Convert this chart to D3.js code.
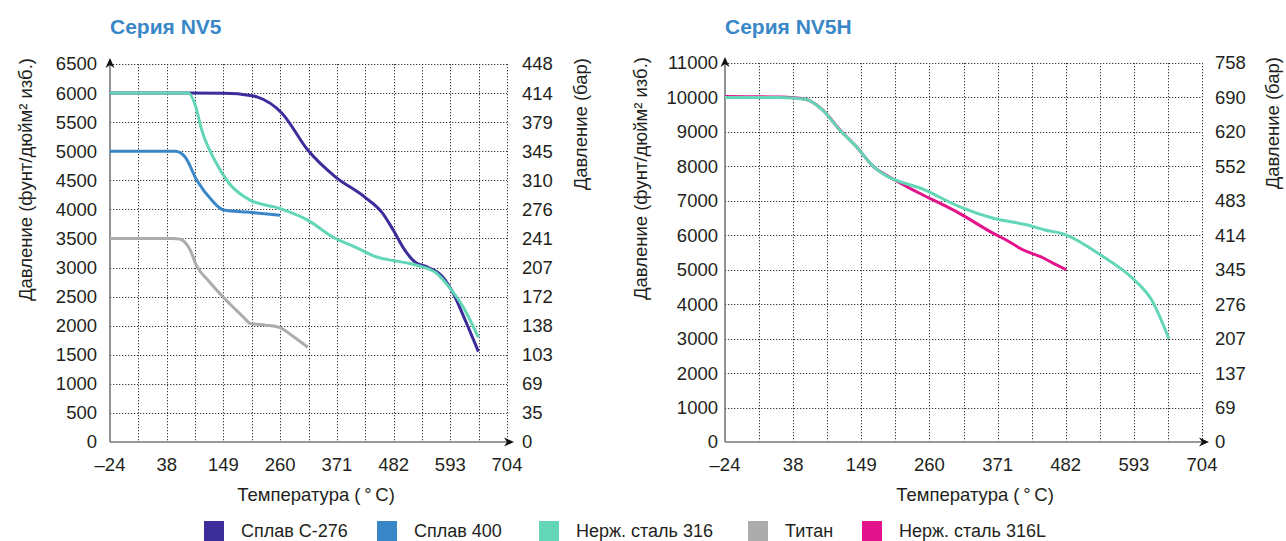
<!DOCTYPE html>
<html><head><meta charset="utf-8">
<script src="https://cdn.jsdelivr.net/npm/d3@7"></script>
<style>
body{margin:0;background:#fff}
svg{display:block}
text{font-family:"Liberation Sans",Arial,sans-serif;fill:#231f20}
</style>
</head><body>
<svg id="chart" width="1286" height="541"></svg>
<script>
// ---------- data ----------
const tempTicks = [-24, 38, 149, 260, 371, 482, 593, 704];

const nv5PsiTicks = [0, 500, 1000, 1500, 2000, 2500, 3000, 3500, 4000, 4500, 5000, 5500, 6000, 6500];
const nv5BarTicks = [0, 35, 69, 103, 138, 172, 207, 241, 276, 310, 345, 379, 414, 448];
const nv5hPsiTicks = [0, 1000, 2000, 3000, 4000, 5000, 6000, 7000, 8000, 9000, 10000, 11000];
const nv5hBarTicks = [0, 69, 137, 207, 276, 345, 414, 483, 552, 620, 690, 758];

// [temperature °C, pressure psig]
const nv5C276 = [[-24,6000],[76,6000],[150,5995],[201,5960],[216,5930],[264,5650],[314,5020],[368,4560],[425,4215],[460,3940],[481,3650],[504,3300],[523,3100],[550,3000],[577,2850],[598,2570],[619,2160],[648,1555]];
const nv5Alloy400 = [[-24,5000],[55,5000],[74,4900],[97,4500],[126,4160],[149,3990],[201,3950],[260,3900]];
const nv5SS316 = [[-24,6000],[80,6000],[95,5760],[105,5410],[132,4845],[160,4450],[201,4160],[258,4020],[314,3815],[362,3530],[410,3340],[446,3190],[481,3120],[508,3080],[536,3020],[565,2910],[592,2650],[619,2310],[648,1800]];
const nv5Titanium = [[-24,3500],[49,3500],[63,3490],[84,3300],[97,3020],[118,2790],[153,2450],[189,2140],[201,2040],[231,2010],[258,1970],[285,1820],[314,1630]];

const nv5hSS316L = [[-24,10030],[26,10010],[58,9950],[86,9640],[114,9060],[141,8570],[169,7990],[200,7640],[239,7264],[309,6637],[364,6056],[385,5862],[413,5572],[441,5378],[462,5186],[483,5000]];
const nv5hSS316 = [[-24,10000],[26,10000],[58,9945],[86,9634],[114,9054],[141,8570],[169,7990],[183,7798],[253,7313],[309,6829],[364,6492],[420,6297],[448,6152],[475,6056],[483,6007],[539,5427],[594,4701],[622,4121],[650,3000]];

const legendNames = ["Сплав C-276", "Сплав 400", "Нерж. сталь 316", "Титан", "Нерж. сталь 316L"];
const legendColors = ["#3c2d9b", "#3a87c8", "#62d6b6", "#acacac", "#e2138b"];

const titles = ["Серия NV5", "Серия NV5H"];
const yTitleLeft = "Давление (фунт/дюйм² изб.)";
const yTitleRight = "Давление (бар)";
const xTitle = "Температура (\u2009°\u2009C)";

// ---------- drawing ----------
const svg = d3.select("#chart");

function drawPanel(cfg) {
  const {x0, x1, yTop, yBot, psiTicks, barTicks, series, title, yLabelEnd, barLabelStart, yTitleX, barTitleX, xTitleX} = cfg;
  const g = svg.append("g");
  const n = tempTicks.length;
  const x = d3.scaleLinear()
    .domain(tempTicks)
    .range(tempTicks.map((d, i) => x0 + i * (x1 - x0) / (n - 1)));
  const psiMax = psiTicks[psiTicks.length - 1];
  const y = d3.scaleLinear().domain([0, psiMax]).range([yBot, yTop]);
  const idx = d3.scaleLinear().domain([0, (n - 1) * 2]).range([x0, x1]);

  // grid
  const grid = g.append("g").attr("stroke", "#3a3a3a").attr("stroke-width", 1).attr("stroke-dasharray", "1.3,1.7");
  grid.selectAll("line.h").data(psiTicks.filter(d => d > 0)).join("line")
    .attr("x1", x0).attr("x2", x1)
    .attr("y1", d => Math.round(y(d)) + 0.5).attr("y2", d => Math.round(y(d)) + 0.5);
  grid.selectAll("line.v").data(d3.range(1, (n - 1) * 2 + 1)).join("line")
    .attr("x1", d => Math.round(idx(d)) + 0.5).attr("x2", d => Math.round(idx(d)) + 0.5)
    .attr("y1", yTop).attr("y2", yBot);

  // axes lines
  g.append("line").attr("x1", x0).attr("x2", x0).attr("y1", yBot).attr("y2", yTop - 4)
    .attr("stroke", "#777").attr("stroke-width", 1.6);
  g.append("line").attr("x1", x0).attr("x2", x1 + 4).attr("y1", yBot).attr("y2", yBot)
    .attr("stroke", "#777").attr("stroke-width", 1.6);
  // arrowheads
  const ty = yTop - 6;
  g.append("path").attr("d", `M${x0},${ty} L${x0 - 4.5},${ty + 10} L${x0},${ty + 7} L${x0 + 4.5},${ty + 10} Z`).attr("fill", "#111");
  const tx = x1 + 7;
  g.append("path").attr("d", `M${tx},${yBot} L${tx - 10},${yBot - 4.5} L${tx - 7},${yBot} L${tx - 10},${yBot + 4.5} Z`).attr("fill", "#111");

  // left tick labels
  g.append("g").selectAll("text").data(psiTicks).join("text")
    .attr("x", yLabelEnd).attr("y", d => y(d)).attr("dy", "0.35em")
    .attr("text-anchor", "end").attr("font-size", 18.5).text(d => d);
  // right tick labels
  g.append("g").selectAll("text").data(barTicks).join("text")
    .attr("x", barLabelStart).attr("y", (d, i) => y(psiTicks[i])).attr("dy", "0.35em")
    .attr("text-anchor", "start").attr("font-size", 18.5).text(d => d);
  // x tick labels
  g.append("g").selectAll("text").data(tempTicks).join("text")
    .attr("x", d => x(d)).attr("y", yBot + 29)
    .attr("text-anchor", "middle").attr("font-size", 18.5).text(d => d < 0 ? "–" + Math.abs(d) : d);

  // axis titles
  g.append("text").attr("transform", `translate(${yTitleX},${yTop - 6}) rotate(-90)`)
    .attr("text-anchor", "end").attr("dy", "0.35em").attr("font-size", 18.5).text(yTitleLeft);
  g.append("text").attr("transform", `translate(${barTitleX},${yTop - 6}) rotate(-90)`)
    .attr("text-anchor", "end").attr("dy", "0.35em").attr("font-size", 18.5).text(yTitleRight);
  g.append("text").attr("x", xTitleX).attr("y", yBot + 59)
    .attr("text-anchor", "middle").attr("font-size", 18.5).text(xTitle);

  // chart title
  g.append("text").attr("x", x0).attr("y", 34).attr("font-size", 21).attr("font-weight", "bold")
    .style("fill", "#3a87c8").text(title);

  // curves
  const line = d3.line().x(d => x(d[0])).y(d => y(d[1])).curve(d3.curveMonotoneX);
  g.append("g").selectAll("path").data(series).join("path")
    .attr("d", d => line(d.values)).attr("fill", "none")
    .attr("stroke", d => d.color).attr("stroke-width", 3).attr("stroke-linejoin", "round");
}

drawPanel({
  x0: 110, x1: 507, yTop: 64, yBot: 442,
  psiTicks: nv5PsiTicks, barTicks: nv5BarTicks,
  series: [
    {values: nv5C276, color: legendColors[0]},
    {values: nv5Alloy400, color: legendColors[1]},
    {values: nv5Titanium, color: legendColors[3]},
    {values: nv5SS316, color: legendColors[2]}
  ],
  title: titles[0], yLabelEnd: 97, barLabelStart: 522, yTitleX: 26, barTitleX: 581, xTitleX: 316
});

drawPanel({
  x0: 725, x1: 1202, yTop: 63, yBot: 442,
  psiTicks: nv5hPsiTicks, barTicks: nv5hBarTicks,
  series: [
    {values: nv5hSS316L, color: legendColors[4]},
    {values: nv5hSS316, color: legendColors[2]}
  ],
  title: titles[1], yLabelEnd: 718, barLabelStart: 1215, yTitleX: 641, barTitleX: 1273, xTitleX: 975
});

// legend
const legendX = [204, 377, 539, 748, 862];
const lg = svg.append("g").selectAll("g").data(legendNames).join("g")
  .attr("transform", (d, i) => `translate(${legendX[i]},521)`);
lg.append("rect").attr("width", 20).attr("height", 20).attr("fill", (d, i) => legendColors[i]);
lg.append("text").attr("x", 37).attr("y", 10).attr("dy", "0.36em").attr("font-size", 18).text(d => d);
</script>
</body></html>
